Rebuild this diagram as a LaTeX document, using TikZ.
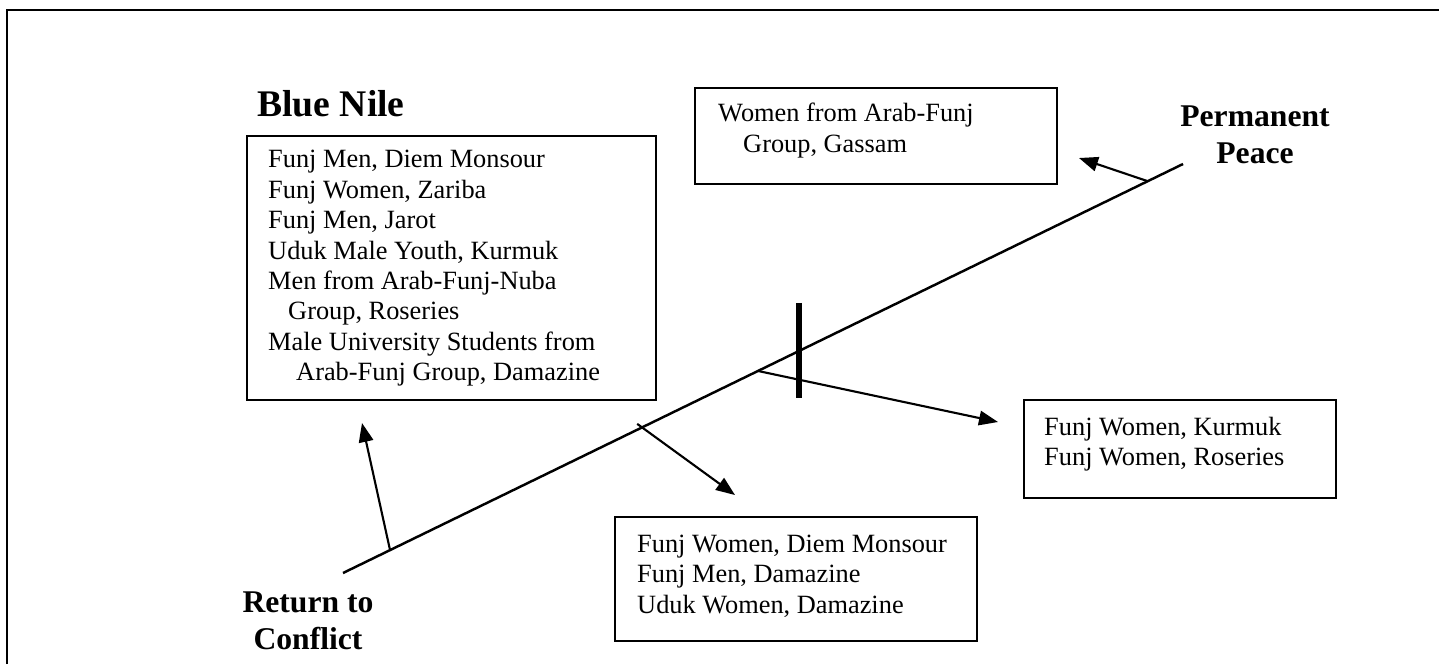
\documentclass[tikz,border=0pt]{standalone}
\usepackage{fontspec}
\setmainfont{Liberation Serif}
\usetikzlibrary{arrows.meta,calc}
\tikzstyle{listbox} = [draw, line width=1.4pt, anchor=north west, inner sep=0pt, font=\fontsize{15}{17.3}\selectfont]
\tikzstyle{pointer} = [draw, line width=1.2pt, -{Triangle[length=0.38cm,width=0.29cm]}]
\tikzstyle{heading} = [inner sep=0pt, align=center, font=\fontsize{18}{20.8}\selectfont\bfseries]
\newcommand{\grouplist}[3]{\begin{tabular}{@{\hspace{#1}}p{#2}@{}}#3\end{tabular}}

\begin{document}
\begin{tikzpicture}[x=0.02cm, y=-0.02cm]
  \useasboundingbox (0,0) rectangle (1439,664);
  \draw[line width=0.9pt] (7,664) -- (7,10) -- (1439,10);

  \node[heading, anchor=base west, font=\fontsize{21.4}{24}\selectfont\bfseries] (bluenile) at (257,116) {Blue Nile};
  \node[heading] (peace) at (1255,135) {Permanent\\Peace};
  \node[heading] (conflict) at (308,621) {Return to\\Conflict};

  % the line from conflict to peace
  \coordinate (low) at (343,573);
  \coordinate (high) at (1183,164);
  \draw[line width=1.4pt] (low) -- (high);
  \coordinate (mark) at ($(low)!0.543!(high)$);
  \draw[line width=3.4pt] ($(mark)+(0,-48)$) -- ($(mark)+(0,47)$);

  \node[listbox, minimum width=8.18cm, minimum height=5.28cm] (westlist) at (246,135)
    {\grouplist{0.42cm}{7.76cm}{Funj Men, Diem Monsour\\ Funj Women, Zariba\\ Funj Men, Jarot\\
      Uduk Male Youth, Kurmuk\\ Men from Arab-Funj-Nuba\\ \hspace*{0.4cm}Group, Roseries\\
      Male University Students from\\ \hspace*{0.56cm}Arab-Funj Group, Damazine}};
  \node[listbox, minimum width=7.24cm, minimum height=1.92cm] (gassam) at (694,87)
    {\grouplist{0.46cm}{6.78cm}{Women from Arab-Funj\\ \hspace*{0.5cm}Group, Gassam\\[0.22cm]}};
  \node[listbox, minimum width=6.24cm, minimum height=1.96cm] (kurmuk) at (1023,399)
    {\grouplist{0.40cm}{5.84cm}{Funj Women, Kurmuk\\ Funj Women, Roseries\\[0.2cm]}};
  \node[listbox, minimum width=7.24cm, minimum height=2.48cm] (damazine) at (614,516)
    {\grouplist{0.44cm}{6.80cm}{Funj Women, Diem Monsour\\ Funj Men, Damazine\\ Uduk Women, Damazine\\[0.1cm]}};

  % pointers off the line
  \coordinate (onW) at ($(low)!0.056!(high)$);
  \coordinate (onS) at ($(low)!0.356!(high)$);
  \coordinate (onE) at ($(low)!0.494!(high)$);
  \coordinate (onN) at ($(low)!0.958!(high)$);
  \coordinate (tipW) at (362,423);
  \coordinate (tipS) at (735,495);
  \coordinate (tipE) at (998,422);
  \coordinate (tipN) at (1079,158);
  \path[pointer] (onW) -- (tipW);
  \path[pointer, shorten <=-0.12cm] (onS) -- (tipS);
  \path[pointer] (onE) -- (tipE);
  \path[pointer] (onN) -- (tipN);
\end{tikzpicture}
\end{document}
